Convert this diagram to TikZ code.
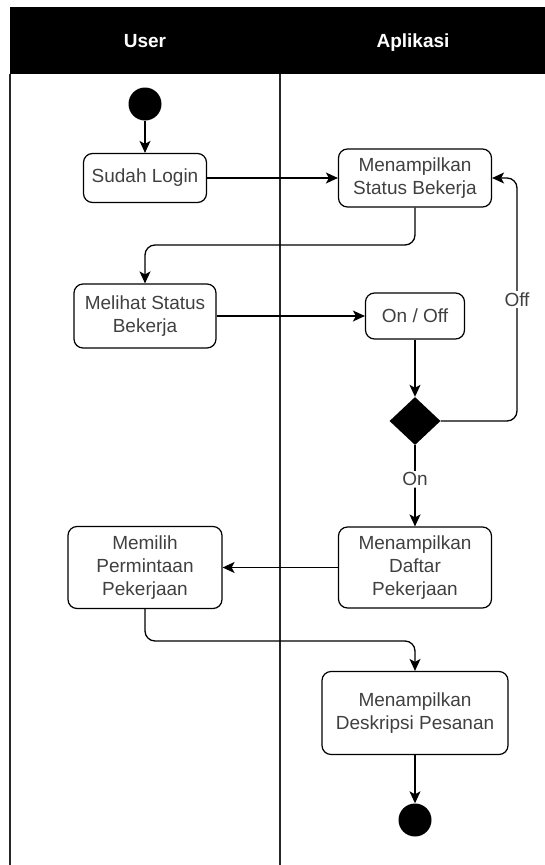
\documentclass[tikz,border=0pt]{standalone}
\usepackage{fontspec}
\setmainfont{Liberation Sans}
\usetikzlibrary{arrows.meta,shapes.geometric}

\begin{document}
\begin{tikzpicture}[x=1pt,y=-1pt,
 act/.style={draw,rounded corners=9pt,line width=1.2pt,text=black!75,align=center,
  inner sep=0pt,font=\fontsize{19}{23}\selectfont},
 flow/.style={-{Stealth[length=12pt,width=11pt,inset=3pt]},line width=1.3pt,rounded corners=10pt},
 dot/.style={circle,fill=black,minimum size=33pt,inner sep=0pt},
 lane/.style={white,anchor=base,font=\fontsize{19}{23}\selectfont\bfseries},
 lbl/.style={fill=white,text=black!75,inner sep=1.5pt,font=\fontsize{19}{23}\selectfont}]
\useasboundingbox (0,0) rectangle (545,865);
% swimlanes
\fill (10,7) rectangle (545,74);
\node[lane] (user) at (145,47) {User};
\node[lane] (app) at (413,47) {Aplikasi};
\draw[line width=1.3pt,black!85] (10,74) -- (10,865) (280,74) -- (280,865);

 \node[dot] (start) at (145,104) {};
 \node[act,minimum width=123pt,minimum height=49pt] (login) at (145,178) {Sudah Login};
 \node[act,minimum width=153pt,minimum height=58pt] (status) at (415,178) {Menampilkan\\Status Bekerja};
 \node[act,minimum width=142pt,minimum height=64pt] (lihat) at (145,316) {Melihat Status\\Bekerja};
 \node[act,minimum width=99pt,minimum height=46pt] (onoff) at (415,316) {On / Off};
 \node[diamond,fill=black,minimum width=51pt,minimum height=48pt,inner sep=0pt] (cek) at (415,421) {};
 \node[act,minimum width=153pt,minimum height=81pt] (daftar) at (415,567.5) {Menampilkan\\Daftar\\Pekerjaan};
 \node[act,minimum width=154pt,minimum height=82pt] (pilih) at (145,567.5) {Memilih\\Permintaan\\Pekerjaan};
 \node[act,minimum width=186pt,minimum height=83pt] (deskripsi) at (415,713) {Menampilkan\\Deskripsi Pesanan};
 \node[dot] (end) at (415,820) {};

 \draw[flow] (start) -- (login);
 \draw[flow] (login) -- (status);
 \draw[flow] (status) -- ++(0,67) -| (lihat);
 \draw[flow] (lihat) -- (onoff);
 \draw[flow] (onoff) -- (cek);
 \draw[flow] (cek) -- ++(102,0) |- node[lbl,pos=0.25]{Off} (status);
 \draw[flow] (cek) -- node[lbl,pos=0.42]{On} (daftar);
 \draw[flow] (daftar) -- (pilih);
 \draw[flow] (pilih) -- ++(0,73.5) -| (deskripsi);
 \draw[flow] (deskripsi) -- (end);
\end{tikzpicture}
\end{document}
